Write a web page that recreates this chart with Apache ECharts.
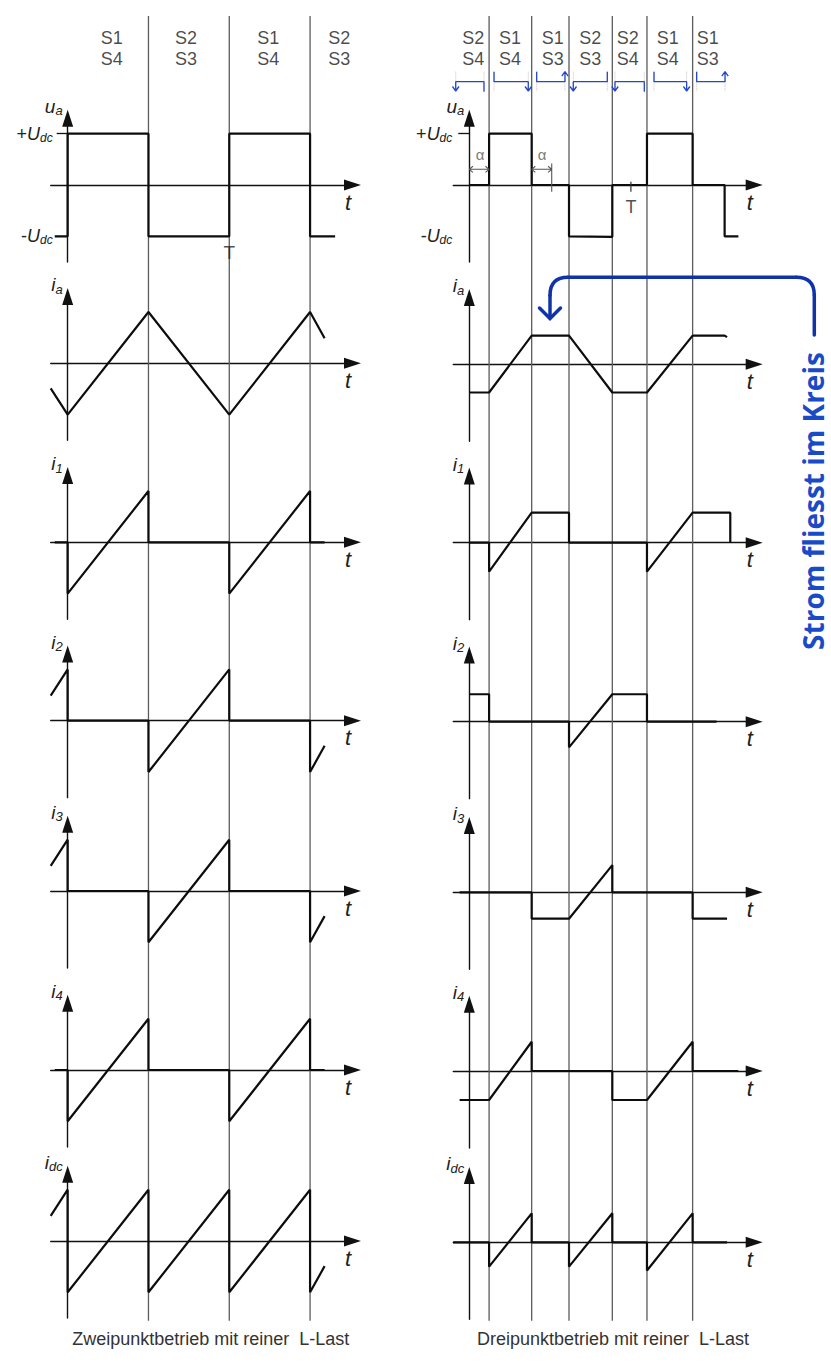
<!DOCTYPE html>
<html><head><meta charset="utf-8">
<script src="https://cdn.jsdelivr.net/npm/echarts@6/dist/echarts.min.js"></script>
<style>html,body{margin:0;padding:0;background:#fff}#c{width:831px;height:1364px}</style>
</head><body><div id="c"></div>
<script>
// ---------------- DATA ----------------
// time unit: half of the fundamental period (period T = 2)
const periodMark = 2;
const tVerticalL = [1, 2, 3];
const tVerticalR = [0.245, 0.772, 1.234, 1.77, 2.199, 2.764];

const switchTopL = ['S1', 'S2', 'S1', 'S2'];
const switchBotL = ['S4', 'S3', 'S4', 'S3'];
const switchPosL = [0.545, 1.464, 2.483, 3.361];
const switchTopR = ['S2', 'S1', 'S1', 'S2', 'S2', 'S1', 'S1'];
const switchBotR = ['S4', 'S4', 'S3', 'S3', 'S4', 'S4', 'S3'];
const switchPosR = [0.05, 0.504, 1.032, 1.498, 1.96, 2.455, 2.95];

const axisMain = ['u', 'i', 'i', 'i', 'i', 'i', 'i'];
const axisSub = ['a', 'a', '1', '2', '3', '4', 'dc'];

// Zweipunktbetrieb (left)
const uaL  = [[-0.16,-1],[0,-1],[0,1],[1,1],[1,-1],[2,-1],[2,1],[3,1],[3,-1],[3.31,-1]];
const iaL  = [[-0.21,-0.49],[0,-1],[1,1],[2,-1],[3,1],[3.18,0.49]];
const i1L  = [[-0.16,0],[0,0],[0,-1],[1,1],[1,0],[2,0],[2,-1],[3,1],[3,0],[3.18,0]];
const i2L  = [[-0.21,0.49],[0,1],[0,0],[1,0],[1,-1],[2,1],[2,0],[3,0],[3,-1],[3.18,-0.49]];
const i3L  = [[-0.21,0.49],[0,1],[0,0],[1,0],[1,-1],[2,1],[2,0],[3,0],[3,-1],[3.18,-0.49]];
const i4L  = [[-0.16,0],[0,0],[0,-1],[1,1],[1,0],[2,0],[2,-1],[3,1],[3,0],[3.18,0]];
const idcL = [[-0.21,0.49],[0,1],[0,-1],[1,1],[1,-1],[2,1],[2,-1],[3,1],[3,-1],[3.18,-0.49]];

// Dreipunktbetrieb (right)
const uaR  = [[0,0],[0.245,0],[0.245,1],[0.772,1],[0.772,0],[1.234,0],[1.234,-1],[1.77,-1.01],[1.77,0],[2.199,0],[2.199,1],[2.764,1],[2.764,0],[3.16,0],[3.16,-1],[3.33,-1]];
const iaR  = [[0,-0.55],[0.245,-0.55],[0.772,0.56],[1.234,0.56],[1.77,-0.55],[2.199,-0.55],[2.764,0.56],[3.16,0.56],[3.19,0.53]];
const i1R  = [[0,0],[0.245,0],[0.245,-0.565],[0.772,0.585],[1.234,0.585],[1.234,0],[2.199,0],[2.199,-0.565],[2.764,0.585],[3.23,0.585],[3.23,0]];
const i2R  = [[0,0.535],[0.245,0.535],[0.245,0],[1.234,0],[1.234,-0.5],[1.77,0.535],[2.199,0.535],[2.199,0],[3.06,0]];
const i3R  = [[-0.12,0],[0.772,0],[0.772,-0.515],[1.234,-0.515],[1.77,0.53],[1.77,0],[2.764,0],[2.764,-0.515],[3.19,-0.515]];
const i4R  = [[-0.12,-0.565],[0.245,-0.565],[0.772,0.57],[0.772,0],[1.77,0],[1.77,-0.565],[2.199,-0.565],[2.764,0.57],[2.764,0],[3.33,0]];
const idcR = [[-0.2,0],[0.245,0],[0.245,-0.475],[0.772,0.565],[0.772,0],[1.234,0],[1.234,-0.475],[1.77,0.565],[1.77,0],[2.199,0],[2.199,-0.55],[2.764,0.565],[2.764,0],[3.19,0]];

// blue switching brackets above the right u_a plot
const bracketStart = [-0.168, 0.306, 0.834, 1.287, 1.803, 2.286, 2.814];
const bracketEnd   = [0.182, 0.730, 1.184, 1.708, 2.166, 2.690, 3.165];
const bracketLeftEnd  = ['arrowDown','up','up','arrowDown','arrowDown','up','up'];
const bracketRightEnd = ['down','arrowDown','arrowUp','up','down','arrowDown','arrowUp'];

// alpha markers (right u_a plot)
const alphaFrom = [0, 0.772];
const alphaTo   = [0.245, 1.02];
const alphaLabelPos = [[0.132, 0.6], [0.9, 0.6]];
const alphaLevel = 0.306;

// ---------------- LAYOUT ----------------
const F = "'Liberation Sans', Arial, sans-serif";
const PXT = 80.8, PXV = 51.3, YMIN = -1.5, YMAX = 1.3;
const cols = [
  {left: 50.7, xMin: -0.21, xMax: 3.525, axisY: [185,363.3,542.3,720.7,891,1070,1241],
   waves: [uaL,iaL,i1L,i2L,i3L,i4L,idcL], vlines: tVerticalL, top: switchTopL, bot: switchBotL, pos: switchPosL, labelMargin: -2},
  {left: 453.3, xMin: -0.198, xMax: 3.526, axisY: [185,364.3,542.7,721.7,892.3,1071,1242.3],
   waves: [uaR,iaR,i1R,i2R,i3R,i4R,idcR], vlines: tVerticalR, top: switchTopR, bot: switchBotR, pos: switchPosR, labelMargin: 1}
];

const option = {animation: false, backgroundColor: '#fff', grid: [], xAxis: [], yAxis: [], series: [], graphic: []};

function addGrid(c, top, height) {
  const gi = option.grid.length;
  option.grid.push({left: c.left, top: top, width: (c.xMax - c.xMin) * PXT, height: height, containLabel: false, outerBoundsMode: 'none'});
  return gi;
}
function hiddenAxes(gi, c, yMin, yMax, inverse) {
  option.xAxis.push({type: 'value', gridIndex: gi, min: c.xMin, max: c.xMax, show: false});
  option.yAxis.push({type: 'value', gridIndex: gi, min: yMin, max: yMax, inverse: !!inverse, show: false});
}
function line(gi, data, color, width, z, type) {
  option.series.push({type: 'line', xAxisIndex: gi, yAxisIndex: gi, data: data, symbol: 'none', showSymbol: false,
    lineStyle: {color: color, width: width, type: type || 'solid'}, z: z, silent: true, animation: false, clip: false});
}
function labels(gi, data, style) {
  option.series.push({type: 'scatter', xAxisIndex: gi, yAxisIndex: gi, data: data, symbolSize: 1,
    itemStyle: {color: 'rgba(0,0,0,0)'}, silent: true, z: 6,
    label: Object.assign({show: true, position: 'inside', formatter: p => p.value[2]}, style)});
}
const nameRich = {
  m: {fontSize: 19, fontStyle: 'italic', fontFamily: F, color: '#222', lineHeight: 22, verticalAlign: 'middle'},
  s: {fontSize: 13, fontStyle: 'italic', fontFamily: F, color: '#222', lineHeight: 10, verticalAlign: 'bottom'}
};
const udcRich = {
  p: {fontSize: 18, fontFamily: F, color: '#222', lineHeight: 20, verticalAlign: 'middle'},
  u: {fontSize: 18, fontStyle: 'italic', fontFamily: F, color: '#222', lineHeight: 20, verticalAlign: 'middle'},
  s: {fontSize: 12, fontStyle: 'italic', fontFamily: F, color: '#222', lineHeight: 9, verticalAlign: 'bottom'}
};

cols.forEach((c, ci) => {
  // vertical switching lines across the whole column
  let gi = addGrid(c, 16, 1304.7);
  hiddenAxes(gi, c, 0, 1);
  const vdata = [];
  c.vlines.forEach(t => vdata.push([t, 0], [t, 1], [t, '-']));
  line(gi, vdata, '#5c5c5c', 1.3, 1);

  // header: switch names
  gi = addGrid(c, 16, 80);
  hiddenAxes(gi, c, 0, 80, true);
  const lbStyle = {fontSize: 18, fontFamily: F, color: '#1a1a1a'};
  labels(gi, c.pos.map((x, i) => [x, 22.3, c.top[i]]), lbStyle);
  labels(gi, c.pos.map((x, i) => [x, 43.3, c.bot[i]]), lbStyle);

  if (ci === 1) {
    const H = 65.7, UP = 55.7, DOWN = 75.7, TIPD = 75, TIPU = 55.7, dx = 0.04, dy = 4.5;
    const bdata = [], guide = [];
    const endPt = (t, e, out) => {
      if (e === 'up') out.push([t, UP]);
      else if (e === 'down') out.push([t, DOWN]);
      else if (e === 'arrowDown') out.push([t, TIPD]);
      else out.push([t, TIPU]);
    };
    const chevron = (t, e, out) => {
      if (e === 'arrowDown') out.push([t - dx, TIPD - dy], [t, TIPD], [t + dx, TIPD - dy], [t, '-']);
      if (e === 'arrowUp') out.push([t - dx, TIPU + dy], [t, TIPU], [t + dx, TIPU + dy], [t, '-']);
    };
    bracketStart.forEach((t0, i) => {
      const t1 = bracketEnd[i];
      const seg = [];
      endPt(t0, bracketLeftEnd[i], seg);
      seg.push([t0, H], [t1, H]);
      endPt(t1, bracketRightEnd[i], seg);
      bdata.push(...seg, [t1, '-']);
      chevron(t0, bracketLeftEnd[i], bdata);
      chevron(t1, bracketRightEnd[i], bdata);
      guide.push([t0, UP], [t0, DOWN], [t0, '-'], [t1, UP], [t1, DOWN], [t1, '-']);
    });
    line(gi, guide, '#c4c4c4', 1, 2, 'dotted');
    line(gi, bdata, '#2347c8', 1.3, 3);
  }

  // the seven plots
  c.axisY.forEach((ay, k) => {
    const gi2 = addGrid(c, ay - YMAX * PXV, (YMAX - YMIN) * PXV);
    option.xAxis.push({type: 'value', gridIndex: gi2, min: c.xMin, max: c.xMax,
      splitLine: {show: false}, axisTick: {show: false}, axisLabel: {show: false},
      axisLine: {show: true, onZero: true, symbol: ['none', 'triangle'], symbolSize: [11, 17], lineStyle: {color: '#111', width: 1.4}},
      name: 't', nameLocation: 'end', nameGap: -4.5,
      nameTextStyle: {fontSize: 22, fontStyle: 'italic', fontFamily: F, color: '#222', align: 'center', verticalAlign: 'top', padding: [6, 0, 0, 0]}});
    option.yAxis.push({type: 'value', gridIndex: gi2, min: YMIN, max: YMAX, splitLine: {show: false},
      axisLine: {show: true, onZero: true, symbol: ['none', 'triangle'], symbolSize: [11, 17], lineStyle: {color: '#111', width: 1.4}},
      axisTick: k === 0 ? {show: true, customValues: [1], length: 11, lineStyle: {color: '#111', width: 1.3}} : {show: false},
      axisLabel: k === 0 ? {show: true, customValues: [1, -1], margin: c.labelMargin,
        formatter: v => (v > 0 ? '{p|+}' : '{p|-}') + '{u|U}{s|dc}', rich: udcRich} : {show: false},
      name: '{m|' + axisMain[k] + '}{s|' + axisSub[k] + '}', nameLocation: 'end', nameGap: 12,
      nameTextStyle: {align: 'right', verticalAlign: 'middle', padding: [0, 5, 0, 0], rich: nameRich}});
    line(gi2, c.waves[k], '#0d0d0d', 2.2, 4);

    if (k === 0 && ci === 0) {
      labels(gi2, [[periodMark, -1.325, 'T']], {fontSize: 19, fontFamily: F, color: '#222'});
    }
    if (k === 0 && ci === 1) {
      labels(gi2, [[periodMark, -0.43, 'T']], {fontSize: 18, fontFamily: F, color: '#222'});
      line(gi2, [[periodMark, 0.064], [periodMark, -0.13]], '#333', 1.2, 5);
      labels(gi2, alphaLabelPos.map(p => [p[0], p[1], 'α']), {fontSize: 15, fontFamily: F, color: '#555'});
      const adata = [], ax = 0.045, ay2 = 0.06;
      alphaFrom.forEach((a, i) => {
        const b = alphaTo[i], y = alphaLevel;
        adata.push([a, y], [b, y], [b, '-']);
        adata.push([a + ax, y + ay2], [a, y], [a + ax, y - ay2], [a, '-']);
        adata.push([b - ax, y + ay2], [b, y], [b - ax, y - ay2], [b, '-']);
      });
      adata.push([alphaTo[1], 0.42], [alphaTo[1], -0.13]);
      line(gi2, adata, '#555', 1.1, 5);
    }
  });
});

// annotations
const blue = '#1034a8';
const bstyle = {stroke: blue, lineWidth: 3.5, fill: null, lineCap: 'round'};
option.graphic = [
  {type: 'text', x: 210.8, y: 1339.3, style: {text: 'Zweipunktbetrieb mit reiner  L-Last', fontSize: 18, fontFamily: F, fill: '#333', align: 'center', verticalAlign: 'middle'}},
  {type: 'text', x: 613, y: 1339.3, style: {text: 'Dreipunktbetrieb mit reiner  L-Last', fontSize: 18, fontFamily: F, fill: '#333', align: 'center', verticalAlign: 'middle'}},
  {type: 'line', z: 100, shape: {x1: 814.3, y1: 335, x2: 814.3, y2: 295}, style: bstyle},
  {type: 'bezierCurve', z: 100, shape: {x1: 814.3, y1: 295, x2: 796.3, y2: 277.3, cpx1: 814.3, cpy1: 277.3}, style: bstyle},
  {type: 'line', z: 100, shape: {x1: 796.3, y1: 277.3, x2: 568, y2: 277.3}, style: bstyle},
  {type: 'bezierCurve', z: 100, shape: {x1: 568, y1: 277.3, x2: 550, y2: 295.3, cpx1: 550, cpy1: 277.3}, style: bstyle},
  {type: 'line', z: 100, shape: {x1: 550, y1: 295.3, x2: 550, y2: 318}, style: bstyle},
  {type: 'polyline', z: 100, shape: {points: [[539.5, 308], [550, 318.5], [560.5, 308]]}, style: bstyle},
  {type: 'text', x: 813, y: 501, rotation: Math.PI / 2, z: 100,
   style: {text: 'Strom fliesst im Kreis', fontSize: 28, fontWeight: 'bold', fontFamily: "'Open Sans', sans-serif", fill: '#1a4bc7', align: 'center', verticalAlign: 'middle'}}
];

const chart = echarts.init(document.getElementById('c'), null, {renderer: 'svg', width: 831, height: 1364});
chart.setOption(option);
</script>
</body></html>
